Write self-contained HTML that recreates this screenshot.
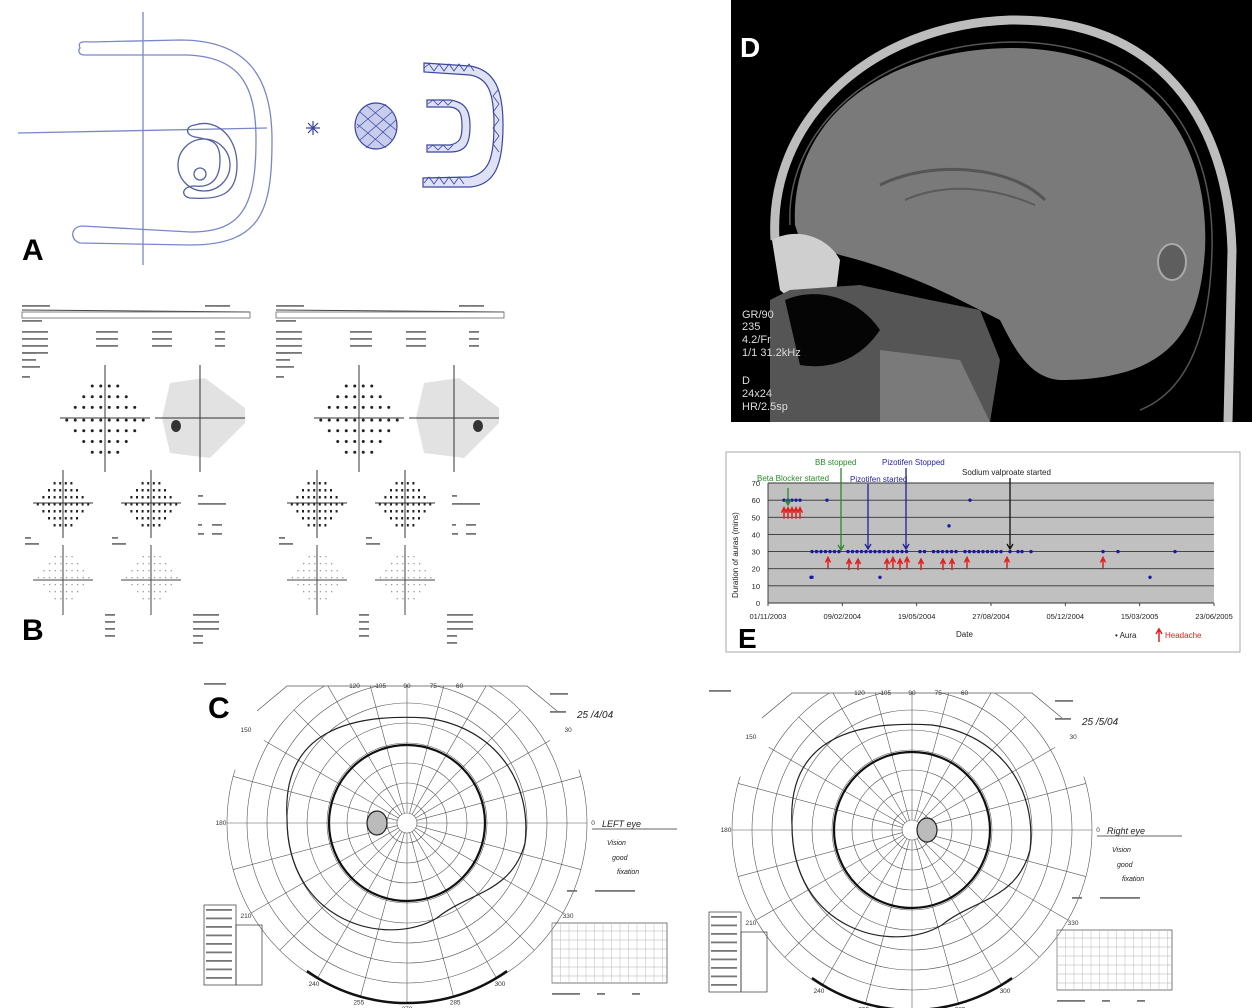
<!DOCTYPE html>
<html><head><meta charset="utf-8"><style>
html,body{margin:0;padding:0;background:#fff;width:1252px;height:1008px;overflow:hidden}
svg{display:block}
text{font-family:"Liberation Sans",sans-serif}
</style></head><body>
<svg id="s" width="1252" height="1008" viewBox="0 0 1252 1008" xmlns="http://www.w3.org/2000/svg">
<!-- Panel A -->
<g fill="none" stroke="#7b86c8" stroke-width="1.3">
<line x1="143" y1="12" x2="143" y2="265"/>
<line x1="18" y1="133" x2="267" y2="128"/>
<path d="M80,48 C78,43 80,41 90,42 L180,40 C250,40 272,80 272,140 C272,210 262,245 190,245 L80,243 C70,240 70,227 82,226 L190,232 C240,232 256,210 256,140 C256,85 240,56 185,55 L85,55 C78,55 78,50 80,48 Z"/>
<path d="M195,125 C215,118 237,135 237,165 C237,195 220,200 190,198 C180,196 182,186 195,186 C210,188 220,180 220,160 C220,140 210,140 195,137 C185,135 185,126 195,125 Z" stroke="#5560a0"/>
<circle cx="204" cy="165" r="26" stroke="#5560a0"/>
<circle cx="200" cy="174" r="6" stroke="#5560a0"/>
</g>
<g stroke="#3a46a0" fill="none" stroke-width="1.2">
<path d="M306,128 L320,128 M313,121 L313,135 M308,123 L318,133 M318,123 L308,133"/>
<ellipse cx="376" cy="126" rx="21" ry="23" fill="#c8cdee"/>
<path d="M360,112 L392,140 M357,124 L386,148 M366,105 L396,130 M360,140 L392,112 M357,128 L386,104 M366,148 L396,120" stroke-width="0.7"/>
<path d="M424,63 L470,66 C495,70 503,90 503,125 C503,165 495,185 470,187 L423,187 L423,178 L470,177 C488,173 494,160 494,125 C494,92 488,78 470,75 L424,72 Z" fill="#dfe2f5"/>
<path d="M427,100 L450,100 C465,102 470,110 470,126 C470,145 465,152 450,152 L427,152 L427,145 L450,145 C460,143 462,138 462,126 C462,114 460,108 450,107 L427,107 Z" fill="#dfe2f5"/>
<path d="M424,68 l5,-4 l5,7 l5,-7 l5,7 l5,-7 l5,7 l5,-7 l5,7 l5,-7 l5,7 M498,90 l-5,6 l6,8 l-6,8 l6,8 l-6,8 l6,8 l-6,8 l6,8 M424,183 l5,-6 l5,7 l5,-7 l5,7 l5,-7 l5,7 l5,-7 l5,7 M428,104 l5,-4 l5,5 l5,-5 l5,5 l5,-5 M428,149 l5,-4 l5,5 l5,-5 l5,5 l5,-5" stroke-width="0.8"/>
</g>
<text x="22" y="260" font-size="30" font-weight="bold">A</text>
<g id="B"></g>
<text x="22" y="640" font-size="30" font-weight="bold">B</text>
<!-- Panel D -->
<rect x="731" y="0" width="521" height="422" fill="#000"/>
<path d="M795,225 C790,120 880,50 1010,48 C1150,48 1210,140 1205,250 C1200,320 1180,380 1060,380 C1030,378 1015,350 1000,320 L960,300 C920,280 880,265 840,255 L800,240 Z" fill="#7a7a7a"/>
<path d="M775,240 C768,120 870,25 1010,20 C1160,18 1228,120 1232,250 L1228,422" fill="none" stroke="#bdbdbd" stroke-width="9"/>
<path d="M790,225 C785,130 875,45 1010,42 C1150,42 1215,130 1212,250 C1210,330 1190,390 1140,410" fill="none" stroke="#555" stroke-width="1.5"/>
<path d="M880,185 C930,160 1010,165 1045,200" stroke="#555" stroke-width="3" fill="none"/>
<path d="M905,200 C950,180 1000,190 1035,205" stroke="#5a5a5a" stroke-width="2" fill="none"/>
<ellipse cx="1172" cy="262" rx="14" ry="18" fill="#5e5e5e" stroke="#aaa" stroke-width="2"/>
<path d="M772,240 C800,225 830,240 840,260 L835,300 C810,310 790,300 780,290 Z" fill="#cfcfcf"/>
<path d="M790,290 L860,285 L930,300 L980,310 L1000,360 L990,422 L770,422 L770,300 Z" fill="#555"/>
<path d="M785,300 C820,285 860,300 880,330 C860,360 830,370 800,365 Z" fill="#050505"/>
<path d="M880,350 L960,360 L990,422 L880,422 Z" fill="#7a7a7a"/>
<g fill="#ddd" font-family="Liberation Mono,monospace" font-size="11">
<text x="742" y="318">GR/90</text><text x="742" y="330">235</text><text x="742" y="343">4.2/Fr</text><text x="742" y="356">1/1 31.2kHz</text>
<text x="742" y="384">D</text><text x="742" y="397">24x24</text><text x="742" y="410">HR/2.5sp</text></g>
<text x="740" y="57" font-size="28" font-weight="bold" fill="#fff">D</text>
<!-- Panel E -->
<rect x="726" y="452" width="514" height="200" fill="#fff" stroke="#aaa"/>
<rect x="768" y="483" width="446" height="120" fill="#c0c0c0"/>
<g stroke="#333" stroke-width="0.9" id="Egrid"></g>
<g id="E"></g>
<g font-size="8">
<text x="757" y="481" fill="#2a8a2a">Beta Blocker started</text>
<text x="815" y="465" fill="#2a8a2a">BB stopped</text>
<text x="850" y="482" fill="#2525a0">Pizotifen started</text>
<text x="882" y="465" fill="#2525a0">Pizotifen Stopped</text>
<text x="962" y="475" fill="#222">Sodium valproate started</text>
<text x="956" y="637" fill="#222">Date</text>
<text x="1115" y="638" fill="#222">• Aura</text>
<text x="1165" y="638" fill="#e02020">Headache</text>
<text x="738" y="598" fill="#222" transform="rotate(-90 738 598)">Duration of auras (mins)</text>
</g>
<path d="M1159,642 L1159,630 M1156,634 L1159,629 L1162,634" stroke="#e02020" stroke-width="1.5" fill="none"/>
<text x="738" y="648" font-size="28" font-weight="bold">E</text>
<g id="C"></g>
<text x="208" y="718" font-size="30" font-weight="bold">C</text>
</svg>
<script>
const NS="http://www.w3.org/2000/svg";
function el(p,t,a,txt){const e=document.createElementNS(NS,t);for(const k in a)e.setAttribute(k,a[k]);if(txt!==undefined)e.textContent=txt;p.appendChild(e);return e;}
const B=document.getElementById('B');
function fakeText(g,x,y,w){el(g,'rect',{x:x,y:y,width:w,height:1.8,fill:'#777'});}
function bPanel(ox){
 el(B,'line',{x1:ox+22,y1:310,x2:ox+250,y2:312,stroke:'#444','stroke-width':1});
 el(B,'rect',{x:ox+22,y:312,width:228,height:6,fill:'none',stroke:'#666','stroke-width':0.8});
 fakeText(B,ox+22,305,28);fakeText(B,ox+205,305,25);fakeText(B,ox+22,320,20);
 for(let r=0;r<4;r++){fakeText(B,ox+22,331+r*7,26);}
 fakeText(B,ox+22,352,14);fakeText(B,ox+22,359,14);fakeText(B,ox+22,366,18);fakeText(B,ox+22,376,8);
 for(let r=0;r<3;r++){fakeText(B,ox+96,331+r*7,22);fakeText(B,ox+152,331+r*7,20);fakeText(B,ox+215,331+r*7,10);}
 const cx=ox+105,cy=418;
 el(B,'line',{x1:cx,y1:365,x2:cx,y2:472,stroke:'#333'});el(B,'line',{x1:cx-45,y1:cy,x2:cx+45,y2:cy,stroke:'#333'});
 const rows=[4,6,8,10,8,6,4];
 rows.forEach((n,i)=>{const y=cy-32+i*10.7;for(let j=0;j<n;j++){const x=cx-(n-1)/2*8.5+j*8.5;el(B,'circle',{cx:x,cy:(i<3?y:y+2),r:1.5,fill:'#222'});}});
 const gx=ox+200;
 el(B,'path',{d:`M${gx-30},${cy-35} L${gx+5},${cy-40} L${gx+45},${cy-10} L${gx+45},${cy+5} L${gx+10},${cy+40} L${gx-30},${cy+35} L${gx-38},${cy} Z`,fill:'#e2e2e2'});
 el(B,'line',{x1:gx,y1:365,x2:gx,y2:472,stroke:'#333'});el(B,'line',{x1:gx-45,y1:cy,x2:gx+45,y2:cy,stroke:'#333'});
 const sx=ox===0?gx-24:gx+24;
 el(B,'ellipse',{cx:sx,cy:cy+8,rx:5,ry:6,fill:'#333'});
 [ox+63,ox+151].forEach(lx=>{
  el(B,'line',{x1:lx,y1:470,x2:lx,y2:538,stroke:'#333'});el(B,'line',{x1:lx-30,y1:503,x2:lx+30,y2:503,stroke:'#333'});
  const r2=[4,6,8,10,8,6,4];r2.forEach((n,i)=>{for(let j=0;j<n;j++)el(B,'rect',{x:lx-(n-1)/2*5.6+j*5.6-1,y:482+i*7,width:2,height:2.5,fill:'#222'});});
  el(B,'line',{x1:lx,y1:545,x2:lx,y2:615,stroke:'#444'});el(B,'line',{x1:lx-30,y1:580,x2:lx+30,y2:580,stroke:'#444'});
  r2.forEach((n,i)=>{for(let j=0;j<n;j++)el(B,'rect',{x:lx-(n-1)/2*5.6+j*5.6,y:556+i*7,width:1.3,height:1.3,fill:'#999'});});
 });
 fakeText(B,ox+25,537,6);fakeText(B,ox+25,543,14);fakeText(B,ox+112,537,6);fakeText(B,ox+112,543,14);
 fakeText(B,ox+198,495,5);fakeText(B,ox+198,503,28);fakeText(B,ox+198,524,4);fakeText(B,ox+212,524,10);fakeText(B,ox+198,533,6);fakeText(B,ox+212,533,10);
 for(let r=0;r<4;r++)fakeText(B,ox+105,614+r*7,10);
 for(let r=0;r<5;r++)fakeText(B,ox+193,614+r*7,r<3?26:10);
}
bPanel(0);bPanel(254);
const eg=document.getElementById('Egrid'),E=document.getElementById('E');
const X0=768,X1=1214,Y0=603,k=120/70;
for(let v=0;v<=70;v+=10){const y=Y0-v*k;el(eg,'line',{x1:X0,y1:y,x2:X1,y2:y});el(E,'text',{x:760,y:y+3,'font-size':7.5,'text-anchor':'end',fill:'#222'},v);}
el(eg,'line',{x1:X0,y1:483,x2:X0,y2:603});
const dl=['01/11/2003','09/02/2004','19/05/2004','27/08/2004','05/12/2004','15/03/2005','23/06/2005'];
dl.forEach((d,i)=>{const x=X0+i*(X1-X0)/6;el(E,'text',{x:x,y:619,'font-size':7.5,'text-anchor':'middle',fill:'#222'},d);el(eg,'line',{x1:x,y1:603,x2:x,y2:606});});
const ys=v=>Y0-v*k;
const pts=[[784,60],[788,60],[792,60],[796,60],[800,60],[827,60],[811,15],[812,15],[970,60],[949,45],[880,15],[1150,15]];
let seed=7;const rnd=()=>{seed=(seed*9301+49297)%233280;return seed/233280;};
for(let x=812;x<=1010;x+=4.5){if(rnd()<0.85)pts.push([x,30]);}
[1018,1022,1031,1103,1118,1175].forEach(x=>pts.push([x,30]));
pts.forEach(p=>el(E,'circle',{cx:p[0],cy:ys(p[1]),r:1.7,fill:'#1a1aa0'}));
const hs=[[784,55],[788,55],[792,55],[796,55],[800,55],[828,26],[849,25],[858,25],[887,25],[893,26],[900,25],[907,26],[921,25],[943,25],[952,25],[967,26],[1007,26],[1103,26]];
hs.forEach(h=>{const x=h[0],y=ys(h[1]);el(E,'path',{d:`M${x},${y+10} L${x},${y} M${x-2.5},${y+4} L${x},${y-1} L${x+2.5},${y+4}`,stroke:'#e02020','stroke-width':1.5,fill:'none'});});
[[788,488,505,'#2a8a2a'],[841,468,550,'#2a8a2a'],[868,484,549,'#20209a'],[906,468,549,'#20209a'],[1010,478,549,'#111']].forEach(a=>{el(E,'path',{d:`M${a[0]},${a[1]} L${a[0]},${a[2]} M${a[0]-3},${a[2]-5} L${a[0]},${a[2]} L${a[0]+3},${a[2]-5}`,stroke:a[3],'stroke-width':1.3,fill:'none'});});
const C=document.getElementById('C');
function chart(cx,cy,R,side){
 const g=el(C,'g',{stroke:'#555',fill:'none','stroke-width':0.6});
 const cp='cp'+cx;const cl=el(C,'clipPath',{id:cp});
 el(cl,'path',{d:`M${cx-90},${cy-137} L${cx+90},${cy-137} L${cx+R+5},${cy-40} L${cx+R+5},${cy+R+5} L${cx-R-5},${cy+R+5} L${cx-R-5},${cy-40} Z`});
 g.setAttribute('clip-path',`url(#${cp})`);
 for(let i=1;i<=9;i++)el(g,'circle',{cx:cx,cy:cy,r:R*i/9});
 el(g,'circle',{cx:cx,cy:cy,r:R/18});
 for(let a=0;a<360;a+=15){const t=a*Math.PI/180;el(g,'line',{x1:cx+R/18*Math.cos(t),y1:cy-R/18*Math.sin(t),x2:cx+R*Math.cos(t),y2:cy-R*Math.sin(t)});}
 el(C,'path',{d:`M${cx-150},${cy-112} L${cx-120},${cy-137} L${cx+120},${cy-137} L${cx+150},${cy-112}`,stroke:'#555',fill:'none','stroke-width':0.7});
 el(C,'circle',{cx:cx,cy:cy,r:78,stroke:'#111','stroke-width':2.2,fill:'none'});
 el(C,'path',{d:`M${cx-120},${cy-5} C${cx-125},${cy-90} ${cx-60},${cy-110} ${cx+20},${cy-105} C${cx+90},${cy-95} ${cx+125},${cy-40} ${cx+118},${cy+20} C${cx+105},${cy+70} ${cx+60},${cy+70} ${cx+30},${cy+95} C${cx-20},${cy+125} ${cx-120},${cy+100} ${cx-120},${cy-5} Z`,stroke:'#222','stroke-width':1.2,fill:'none'});
 const bx=side?cx+15:cx-30;
 el(C,'ellipse',{cx:bx,cy:cy,rx:10,ry:12,stroke:'#222','stroke-width':1.2,fill:'#bbb'});
 el(C,'path',{d:`M${cx-100},${cy+148} A${R-8},${R-8} 0 0 0 ${cx+100},${cy+148}`,stroke:'#111','stroke-width':2.5,fill:'none'});
 [[90,'90'],[75,'75'],[60,'60'],[105,'105'],[120,'120']].forEach(l=>{el(C,'text',{x:cx+(l[0]-90)*-1.75,y:cy-135,'font-size':6.5,'text-anchor':'middle',fill:'#333'},l[1]);});
 [[180,'180'],[0,'0'],[270,'270'],[255,'255'],[285,'285'],[240,'240'],[300,'300'],[150,'150'],[30,'30'],[210,'210'],[330,'330']].forEach(l=>{const t=l[0]*Math.PI/180;el(C,'text',{x:cx+(R+6)*Math.cos(t),y:cy-(R+6)*Math.sin(t)+2,'font-size':6.5,'text-anchor':'middle',fill:'#333'},l[1]);});
 const tx=cx-203,ty=cy+82;
 el(C,'rect',{x:tx,y:ty,width:32,height:80,stroke:'#333',fill:'none','stroke-width':0.7});
 el(C,'rect',{x:tx+32,y:ty+20,width:26,height:60,stroke:'#333',fill:'none','stroke-width':0.7});
 for(let i=0;i<9;i++)fakeText(C,tx+2,ty+4+i*8.5,26);
 const rx=cx+145,ry=cy+100;
 el(C,'rect',{x:rx,y:ry,width:115,height:60,stroke:'#444',fill:'none','stroke-width':0.7});
 for(let i=0;i<6;i++)el(C,'line',{x1:rx,y1:ry+8+i*9,x2:rx+115,y2:ry+8+i*9,stroke:'#aaa','stroke-width':0.6});
 for(let j=0;j<14;j++)el(C,'line',{x1:rx+j*8.5,y1:ry,x2:rx+j*8.5,y2:ry+60,stroke:'#bbb','stroke-width':0.5});
 fakeText(C,rx,ry+70,28);fakeText(C,rx+45,ry+70,8);fakeText(C,rx+80,ry+70,8);
 fakeText(C,cx+143,cy-130,18);fakeText(C,cx+143,cy-112,16);
 fakeText(C,cx+160,cy+67,10);fakeText(C,cx+188,cy+67,40);
 fakeText(C,tx,cy-140,22);
 el(C,'line',{x1:cx+185,y1:cy+6,x2:cx+270,y2:cy+6,stroke:'#333','stroke-width':0.8});
 el(C,'text',{x:cx+195,y:cy+4,'font-size':9,'font-style':'italic',fill:'#222','font-family':'Liberation Serif'},side?'Right eye':'LEFT eye');
 el(C,'text',{x:cx+200,y:cy+22,'font-size':7,'font-style':'italic',fill:'#222'},'Vision');
 el(C,'text',{x:cx+205,y:cy+37,'font-size':7,'font-style':'italic',fill:'#222'},'good');
 el(C,'text',{x:cx+210,y:cy+51,'font-size':7,'font-style':'italic',fill:'#222'},'fixation');
 el(C,'text',{x:cx+170,y:cy-105,'font-size':10,'font-style':'italic',fill:'#222','font-family':'Liberation Serif'},side?'25 /5/04':'25 /4/04');
}
chart(407,823,180,0);chart(912,830,180,1);
</script>
</body></html>
